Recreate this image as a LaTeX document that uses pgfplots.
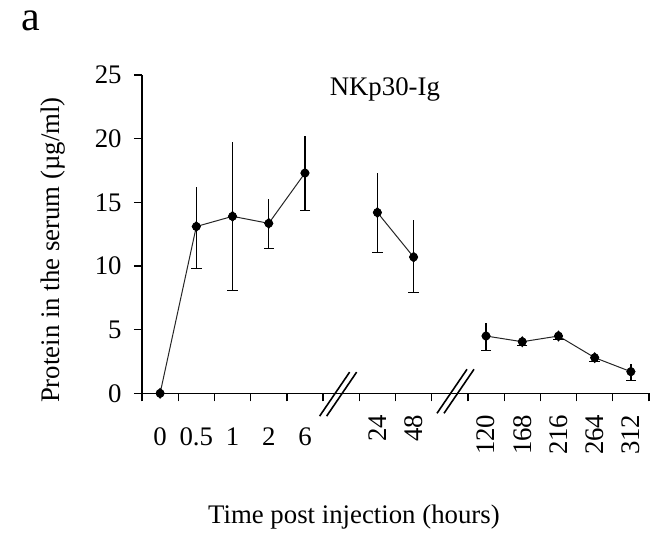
\documentclass[border=0pt]{standalone}
\usepackage{fontspec}
\setmainfont{Liberation Serif}
\usepackage{pgfplots}
\usepackage{pgfplotstable}
\pgfplotsset{compat=1.18}
\newcommand\fsz{\fontsize{13.4}{16}\selectfont}

% slot centres: x = index + 0.5 (slots 5 and 8 hold the axis breaks)
\pgfplotstableread{
x   y     ep    em
0.5 0     0     0
1.5 13.1  3.1   3.3
2.5 13.9  5.8   5.8
3.5 13.35 1.9   2.0
4.5 17.3  2.9   2.95
}\tabA
\pgfplotstableread{
x   y     ep    em
6.5 14.2  3.1   3.15
7.5 10.7  2.9   2.8
}\tabB
\pgfplotstableread{
x    y     ep    em
9.5  4.5   1.05  1.15
10.5 4.05  0.3   0.3
11.5 4.5   0.3   0.3
12.5 2.8   0.3   0.3
13.5 1.7   0.6   0.7
}\tabC

\pgfplotsset{
  series/.style={black!85, line width=0.5pt, mark=diamond*,
    mark size=2.4pt, mark options={solid, fill=black, draw=black, xscale=1.1},
    error bars/.cd, y dir=minus, y explicit,
    error bar style={black, line width=0.6pt},
    error mark options={rotate=90, mark size=2.6pt, black, line width=0.6pt}},
  upper/.style={only marks, mark=none, forget plot,
    error bars/.cd, y dir=plus, y explicit, error mark=none,
    error bar style={black, line width=0.6pt}},
}

\begin{document}
\begin{tikzpicture}[font=\fsz]
\begin{axis}[
  scale only axis, width=253.5pt, height=159.15pt,
  xmin=0, xmax=14, ymin=0, ymax=25,
  axis x line*=bottom, axis y line*=left,
  axis line style={line width=0.65pt, black},
  tick align=outside,
  major tick length=0pt, minor tick length=4pt,
  every minor tick/.style={line width=0.65pt, black},
  minor xtick={0,...,14}, minor ytick={0,5,...,25},
  ytick={0,5,...,25},
  xtick={0.5,1.5,2.5,3.5,4.5},
  xticklabels={0,0.5,1,2,6},
  extra x ticks={6.5,7.5,9.5,10.5,11.5,12.5,13.5},
  extra x tick labels={24,48,120,168,216,264,312},
  extra x tick style={xticklabel style={rotate=90, anchor=east, xshift=6.5pt}},
  /pgf/number format/assume math mode=true,
  xticklabel style={font=\fsz, inner sep=0pt, anchor=north, yshift=-17pt},
  yticklabel style={font=\fsz, inner sep=0pt, anchor=east, xshift=-10pt},
  xlabel={Time post injection (hours)},
  xlabel style={font=\fsz, at={([yshift=-64.85pt]rel axis cs:0.418,0)}, anchor=base},
  ylabel={Protein in the serum (µg/ml)},
  ylabel style={font=\fsz, at={([xshift=-41.25pt]rel axis cs:0,0.45)}, anchor=base},
  clip=false,
]
\addplot[series] table[x=x, y=y, y error minus=em] {\tabA};
\addplot[upper] table[x=x, y=y, y error plus=ep] {\tabA};
\addplot[series] table[x=x, y=y, y error minus=em] {\tabB};
\addplot[upper] table[x=x, y=y, y error plus=ep] {\tabB};
\addplot[series] table[x=x, y=y, y error minus=em] {\tabC};
\addplot[upper] table[x=x, y=y, y error plus=ep] {\tabC};

\node[anchor=base] at (rel axis cs:0.479,0.935) {NKp30-Ig};

% axis break marks
\draw[line width=0.8pt, black] ([shift={(-9.5pt,-11.4pt)}]axis cs:5.43,0) -- ++(15pt,22pt);
\draw[line width=0.8pt, black] ([shift={(-6pt,-11.4pt)}]axis cs:5.43,0) -- ++(15pt,22pt);
\draw[line width=0.8pt, black] ([shift={(-9.5pt,-10pt)}]axis cs:8.67,0) -- ++(15pt,22pt);
\draw[line width=0.8pt, black] ([shift={(-6pt,-10pt)}]axis cs:8.67,0) -- ++(15pt,22pt);
\coordinate (O) at (rel axis cs:0,0);
\end{axis}
\node[anchor=base west, font=\fontsize{21}{24}\selectfont] at ([shift={(-64pt,181.65pt)}]O) {a};
\path[use as bounding box] ([shift={(-71pt,-71.85pt)}]O) rectangle ([shift={(257.5pt,196.65pt)}]O);
\end{tikzpicture}
\end{document}
